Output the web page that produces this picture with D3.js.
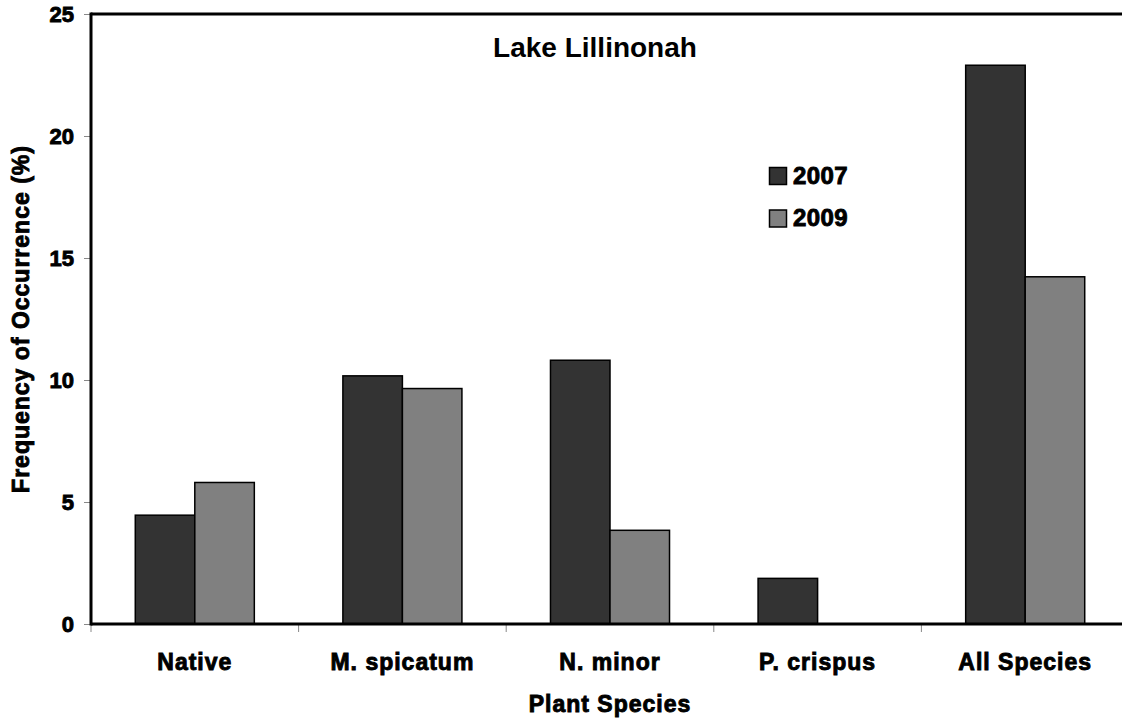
<!DOCTYPE html>
<html>
<head>
<meta charset="utf-8">
<script src="https://cdn.jsdelivr.net/npm/d3@7"></script>
<style>
  body { margin: 0; background: #fff; }
  text { font-family: "Liberation Sans", Arial, sans-serif; font-weight: bold; }
  .heavy { stroke: #000; stroke-width: 0.9px; letter-spacing: 1px; }
</style>
</head>
<body>
<div id="chart"></div>
<script>
// Data
var categories = ["Native", "M. spicatum", "N. minor", "P. crispus", "All Species"];
var years = ["2007", "2009"];
var values2007 = [4.46, 10.17, 10.81, 1.87, 22.9];
var values2009 = [5.8, 9.65, 3.84, 0, 14.23];
var yTicks = [0, 5, 10, 15, 20, 25];

var colors = { "2007": "#333333", "2009": "#808080" };

var margin = { top: 14, right: 0, bottom: 97, left: 91 };
var width = 1129 - margin.left,
    height = 721 - margin.top - margin.bottom;

var svg = d3.select("#chart")
    .append("svg")
    .attr("width", 1122)
    .attr("height", 721)
    .append("g")
    .attr("transform", "translate(" + margin.left + "," + margin.top + ")");

var x0 = d3.scaleBand().domain(categories).range([0, width]).paddingInner(0).paddingOuter(0);
var x1 = d3.scaleBand().domain(years).range([x0.bandwidth() * 0.2133, x0.bandwidth() * 0.7867]);
var y = d3.scaleLinear().domain([0, 25]).range([height, 0]);

// Y axis
var yAxis = svg.append("g")
    .call(d3.axisLeft(y).tickValues(yTicks).tickSize(7).tickPadding(10));
yAxis.select(".domain").remove();
yAxis.selectAll(".tick line").attr("stroke", "#888").attr("stroke-width", 1);
yAxis.selectAll(".tick text")
    .attr("class", "heavy")
    .style("font-size", "22px")
    .style("letter-spacing", "0px")
    .attr("fill", "#000");

// X axis ticks between categories
var xTickPos = d3.range(categories.length + 1).map(function(i) { return i * x0.step(); });
svg.selectAll("line.xtick")
    .data(xTickPos)
    .enter()
    .append("line")
    .attr("class", "xtick")
    .attr("x1", function(d) { return d; })
    .attr("x2", function(d) { return d; })
    .attr("y1", height)
    .attr("y2", height + 8)
    .attr("stroke", "#888")
    .attr("stroke-width", 1);

svg.selectAll("text.cat")
    .data(categories)
    .enter()
    .append("text")
    .attr("class", "cat heavy")
    .attr("x", function(d) { return x0(d) + x0.bandwidth() / 2; })
    .attr("y", height + 46)
    .attr("text-anchor", "middle")
    .style("font-size", "23px")
    .text(function(d) { return d; });

// Bars
var rows = categories.map(function(c, i) {
    return { cat: c, vals: [{ year: "2007", v: values2007[i] }, { year: "2009", v: values2009[i] }] };
});

var groups = svg.selectAll("g.cat")
    .data(rows)
    .enter()
    .append("g")
    .attr("class", "cat")
    .attr("transform", function(d) { return "translate(" + x0(d.cat) + ",0)"; });

groups.selectAll("rect")
    .data(function(d) { return d.vals.filter(function(e) { return e.v > 0; }); })
    .enter()
    .append("rect")
    .attr("x", function(d) { return x1(d.year); })
    .attr("y", function(d) { return y(d.v); })
    .attr("width", x1.bandwidth())
    .attr("height", function(d) { return height - y(d.v); })
    .attr("fill", function(d) { return colors[d.year]; })
    .attr("stroke", "#000")
    .attr("stroke-width", 1.5);

// Frame lines: left, top, bottom
svg.append("line").attr("x1", 0).attr("x2", 0).attr("y1", -1.5).attr("y2", height + 1.5)
    .attr("stroke", "#000").attr("stroke-width", 3);
svg.append("line").attr("x1", 0).attr("x2", width).attr("y1", 0).attr("y2", 0)
    .attr("stroke", "#000").attr("stroke-width", 3);
svg.append("line").attr("x1", 0).attr("x2", width).attr("y1", height).attr("y2", height)
    .attr("stroke", "#000").attr("stroke-width", 3);

// Title
svg.append("text")
    .attr("x", 504)
    .attr("y", 42.5)
    .attr("text-anchor", "middle")
    .style("font-size", "28px")
    .text("Lake Lillinonah");

// Legend
var legend = svg.selectAll("g.legend")
    .data(years)
    .enter()
    .append("g")
    .attr("class", "legend")
    .attr("transform", function(d, i) { return "translate(678.5," + (153.5 + i * 42.5) + ")"; });

legend.append("rect")
    .attr("width", 17)
    .attr("height", 17)
    .attr("fill", function(d) { return colors[d]; })
    .attr("stroke", "#000")
    .attr("stroke-width", 1.5);

legend.append("text")
    .attr("class", "heavy")
    .attr("x", 23.5)
    .attr("y", 16)
    .style("font-size", "24px")
    .style("letter-spacing", "0.4px")
    .text(function(d) { return d; });

// Axis titles
svg.append("text")
    .attr("class", "heavy")
    .attr("transform", "rotate(-90)")
    .attr("x", -(height / 2))
    .attr("y", -62)
    .attr("text-anchor", "middle")
    .style("font-size", "23px")
    .text("Frequency of Occurrence (%)");

svg.append("text")
    .attr("class", "heavy")
    .attr("x", width / 2)
    .attr("y", height + 88)
    .attr("text-anchor", "middle")
    .style("font-size", "23px")
    .text("Plant Species");
</script>
</body>
</html>
